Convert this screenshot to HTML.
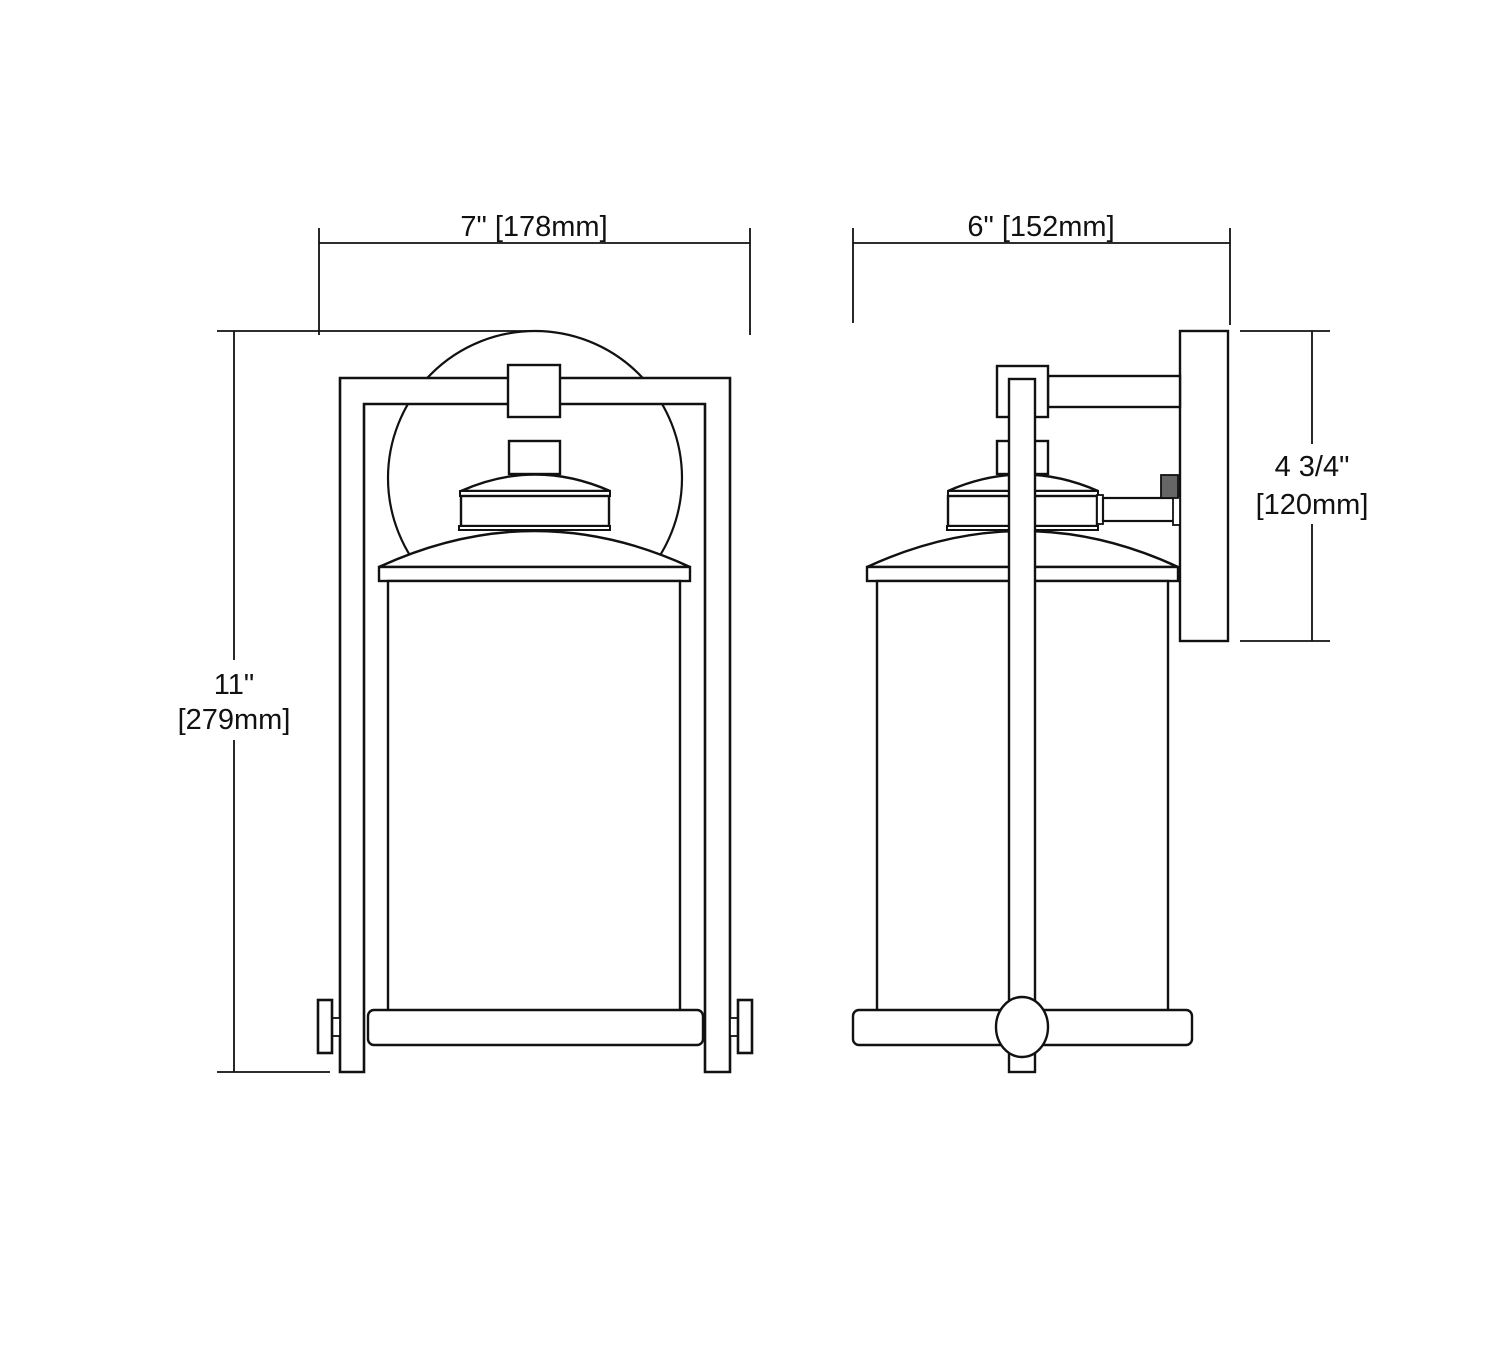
<!DOCTYPE html>
<html><head><style>
html,body{margin:0;padding:0;background:#fff;}
svg{display:block;}
text{font-family:"Liberation Sans",Arial,sans-serif;font-size:29px;fill:#111;}
</style></head><body>
<svg width="1500" height="1365" viewBox="0 0 1500 1365" xmlns="http://www.w3.org/2000/svg">
<g fill="none" stroke="#111" stroke-width="1.8">
<line x1="319" y1="243" x2="750" y2="243"/>
<line x1="319" y1="228" x2="319" y2="335"/>
<line x1="750" y1="228" x2="750" y2="335"/>
<line x1="234" y1="331" x2="234" y2="1072"/>
<line x1="217" y1="331" x2="535" y2="331"/>
<line x1="217" y1="1072" x2="330" y2="1072"/>
<circle cx="535" cy="478" r="147" fill="#fff" stroke-width="2.2"/>
<path d="M340 1072 L340 378 L730 378 L730 1072 L705 1072 L705 404 L364 404 L364 1072 Z" fill="#fff" stroke-width="2.6"/>
<rect x="508" y="365" width="52" height="52" fill="#fff" stroke-width="2.4"/>
<rect x="509" y="441" width="51" height="33" fill="#fff" stroke-width="2.4"/>
<path d="M461 491 Q535 458 610 491 Z" fill="#fff" stroke-width="2.4"/>
<rect x="460" y="491" width="150" height="5" fill="#fff" stroke-width="2"/>
<rect x="461" y="496" width="148" height="30" fill="#fff" stroke-width="2.4"/>
<rect x="459" y="526" width="151" height="4" fill="#fff" stroke-width="2"/>
<path d="M379 567 Q535 495 690 567 Z" fill="#fff" stroke-width="2.4"/>
<rect x="379" y="567" width="311" height="14" fill="#fff" stroke-width="2.4"/>
<rect x="388" y="581" width="292" height="430" fill="#fff" stroke-width="2.4"/>
<rect x="368" y="1010" width="335" height="35" rx="6" fill="#fff" stroke-width="2.4"/>
<rect x="332" y="1018" width="8" height="18" fill="#fff"/>
<rect x="318" y="1000" width="14" height="53" fill="#fff" stroke-width="2.6"/>
<rect x="730" y="1018" width="8" height="18" fill="#fff"/>
<rect x="738" y="1000" width="14" height="53" fill="#fff" stroke-width="2.6"/>

<line x1="853" y1="243" x2="1230" y2="243"/>
<line x1="853" y1="228" x2="853" y2="323"/>
<line x1="1230" y1="228" x2="1230" y2="325"/>
<line x1="1312" y1="331" x2="1312" y2="641"/>
<line x1="1240" y1="331" x2="1330" y2="331"/>
<line x1="1240" y1="641" x2="1330" y2="641"/>
<rect x="1180" y="331" width="48" height="310" fill="#fff" stroke-width="2.4"/>
<rect x="1048" y="376" width="132" height="31" fill="#fff" stroke-width="2.4"/>
<rect x="997" y="366" width="51" height="51" fill="#fff" stroke-width="2.4"/>
<rect x="997" y="441" width="51" height="33" fill="#fff" stroke-width="2.4"/>
<path d="M948 491 Q1023 458 1098 491 Z" fill="#fff" stroke-width="2.4"/>
<rect x="948" y="491" width="150" height="5" fill="#fff" stroke-width="2"/>
<rect x="948" y="496" width="149" height="30" fill="#fff" stroke-width="2.4"/>
<rect x="947" y="526" width="151" height="4" fill="#fff" stroke-width="2"/>
<rect x="1097" y="495" width="6" height="29" fill="#fff"/>
<rect x="1103" y="498" width="71" height="23" fill="#fff" stroke-width="2.2"/>
<rect x="1173" y="496" width="7" height="29" fill="#fff"/>
<rect x="1161" y="475" width="17" height="23" fill="#666"/>
<path d="M867 567 Q1023 495 1178 567 Z" fill="#fff" stroke-width="2.4"/>
<rect x="867" y="567" width="311" height="14" fill="#fff" stroke-width="2.4"/>
<rect x="877" y="581" width="291" height="430" fill="#fff" stroke-width="2.4"/>
<rect x="853" y="1010" width="339" height="35" rx="6" fill="#fff" stroke-width="2.4"/>
<rect x="1009" y="379" width="26" height="693" fill="#fff" stroke-width="2.4"/>
<ellipse cx="1022" cy="1027" rx="26" ry="30" fill="#fff" stroke-width="2.4"/>
</g>
<text x="534" y="236" text-anchor="middle">7" [178mm]</text>
<text x="1041" y="236" text-anchor="middle">6" [152mm]</text>
<rect x="165" y="660" width="138" height="80" fill="#fff"/>
<text x="234" y="694" text-anchor="middle">11"</text>
<text x="234" y="729" text-anchor="middle">[279mm]</text>
<rect x="1245" y="444" width="134" height="80" fill="#fff"/>
<text x="1312" y="476" text-anchor="middle">4 3/4"</text>
<text x="1312" y="514" text-anchor="middle">[120mm]</text>
</svg>
</body></html>
